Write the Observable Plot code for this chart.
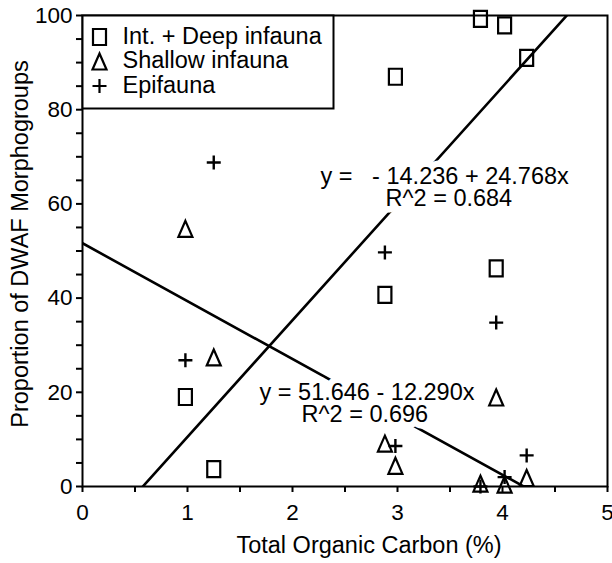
<!DOCTYPE html>
<html><head><meta charset="utf-8">
<script src="https://cdn.jsdelivr.net/npm/d3@7"></script>
<script src="https://cdn.jsdelivr.net/npm/@observablehq/plot@0.6"></script>
<style>body{margin:0;background:#fff} svg text{white-space:pre}</style>
</head><body><div id="chart"></div>
<script>
// ---- data ----
const toc = [0.98, 1.25, 2.88, 2.98, 3.79, 3.94, 4.02, 4.23];           // Total Organic Carbon (%)
const deepInfauna = [19, 3.7, 40.7, 87, 99.3, 46.3, 97.9, 91];           // Int. + Deep infauna
const shallowInfauna = [54.7, 27.4, 9.1, 4.4, 0.6, 18.9, 0.4, 1.8];      // Shallow infauna
const epifauna = [26.8, 68.8, 49.7, 8.6, 0, 34.8, 2, 6.6];               // Epifauna
const seriesNames = ["Int. + Deep infauna", "Shallow infauna", "Epifauna"];
const fitDeep = [-14.236, 24.768];     // intercept, slope
const fitShallow = [51.646, -12.290];
const eqDeepText = ["y =   - 14.236 + 24.768x", "R^2 = 0.684"];
const eqDeepX = [2.267, 2.886];
const eqDeepY = [64.33, 59.66];
const eqShallowText = ["y = 51.646 - 12.290x", "R^2 = 0.696"];
const eqShallowX = [1.686, 2.086];
const eqShallowY = [18.26, 13.59];
const xDomain = [0, 5];
const yDomain = [0, 100];
const xTicks = [0, 0.5, 1, 1.5, 2, 2.5, 3, 3.5, 4, 4.5, 5];
const yTicks = [0, 5, 10, 15, 20, 25, 30, 35, 40, 45, 50, 55, 60, 65, 70, 75, 80, 85, 90, 95, 100];
const xLabel = "Total Organic Carbon (%)";
const yLabel = "Proportion of DWAF Morphogroups";

// ---- symbols ----
const squareSym = {draw(ctx) { ctx.rect(-6.5, -8, 13, 16); }};
const triSym = {draw(ctx) { ctx.moveTo(0, -8); ctx.lineTo(7, 8); ctx.lineTo(-7, 8); ctx.closePath(); }};
const plusSym = {draw(ctx) { ctx.moveTo(-7, 0); ctx.lineTo(7, 0); ctx.moveTo(0, -7); ctx.lineTo(0, 7); }};
const symbols = [squareSym, triSym, plusSym];

const rows = (vals) => toc.map((x, i) => ({x, y: vals[i]}));
const fitLine = (f) => xDomain.map(x => ({x, y: f[0] + f[1] * x}));
const eqRows = (T, X, Y) => T.map((t, i) => ({t, x: X[i], y: Y[i]}));
const eqAll = eqRows(eqDeepText, eqDeepX, eqDeepY).concat(eqRows(eqShallowText, eqShallowX, eqShallowY));

const dotOpts = {x: "x", y: "y", r: 8, fill: "none", stroke: "black", strokeWidth: 2.2, strokeLinejoin: "miter"};
const textFont = {fontSize: 23.5, fill: "black"};
const eqOpts = {x: "x", y: "y", text: "t", textAnchor: "start", lineAnchor: "bottom", fontSize: 23.5};

const marks = [
  Plot.frame({stroke: "black", strokeWidth: 2}),
  Plot.axisX({ticks: xTicks, tickSize: 6, tickPadding: 12, strokeWidth: 2, fontSize: 22.5,
    tickFormat: d => Number.isInteger(d) ? String(d) : "", label: null}),
  Plot.axisY({ticks: yTicks, tickSize: 6, tickPadding: 4, strokeWidth: 2, fontSize: 22.5,
    tickFormat: d => d % 20 === 0 ? String(d) : "", label: null}),
  Plot.line(fitLine(fitDeep), {x: "x", y: "y", clip: true, stroke: "black", strokeWidth: 2.6}),
  Plot.line(fitLine(fitShallow), {x: "x", y: "y", clip: true, stroke: "black", strokeWidth: 2.6}),
  // white backing behind the equations (hides the fit lines, as in the reference)
  Plot.text(eqAll, {...eqOpts, fill: "white", stroke: "white", strokeWidth: 13, strokeLinejoin: "round"}),
  Plot.text(eqAll, {...eqOpts, fill: "black"}),
  Plot.dot(rows(deepInfauna), {...dotOpts, symbol: squareSym}),
  Plot.dot(rows(shallowInfauna), {...dotOpts, symbol: triSym}),
  Plot.dot(rows(epifauna), {...dotOpts, symbol: plusSym, strokeWidth: 2.4}),
  // legend
  Plot.frame({insetRight: 274, insetBottom: 378, stroke: "black", strokeWidth: 2, fill: "white"}),
  ...seriesNames.flatMap((name, i) => [
    Plot.dot([name], {frameAnchor: "top-left", dx: 17, dy: 21.5 + i * 24.5, symbol: symbols[i], r: 8,
      fill: "none", stroke: "black", strokeWidth: 2.2}),
    Plot.text([name], {frameAnchor: "top-left", dx: 40, dy: 28 + i * 24.5, text: d => d,
      textAnchor: "start", lineAnchor: "bottom", ...textFont})
  ]),
  // axis titles
  Plot.text([xLabel], {frameAnchor: "bottom", dx: 24, dy: 66, text: d => d, textAnchor: "middle", lineAnchor: "bottom", ...textFont}),
  Plot.text([yLabel], {frameAnchor: "left", dx: -62, dy: -7, rotate: -90, text: d => d, textAnchor: "middle", lineAnchor: "middle", ...textFont})
];

const chart = Plot.plot({
  width: 612, height: 563,
  marginLeft: 82, marginRight: 5, marginTop: 15, marginBottom: 77,
  style: {fontFamily: "'Liberation Sans', Arial, Helvetica, sans-serif", fontSize: "22px", background: "white", color: "black", overflow: "visible"},
  x: {domain: xDomain, label: null},
  y: {domain: yDomain, label: null},
  marks
});
document.getElementById("chart").appendChild(chart);
</script>
</body></html>
